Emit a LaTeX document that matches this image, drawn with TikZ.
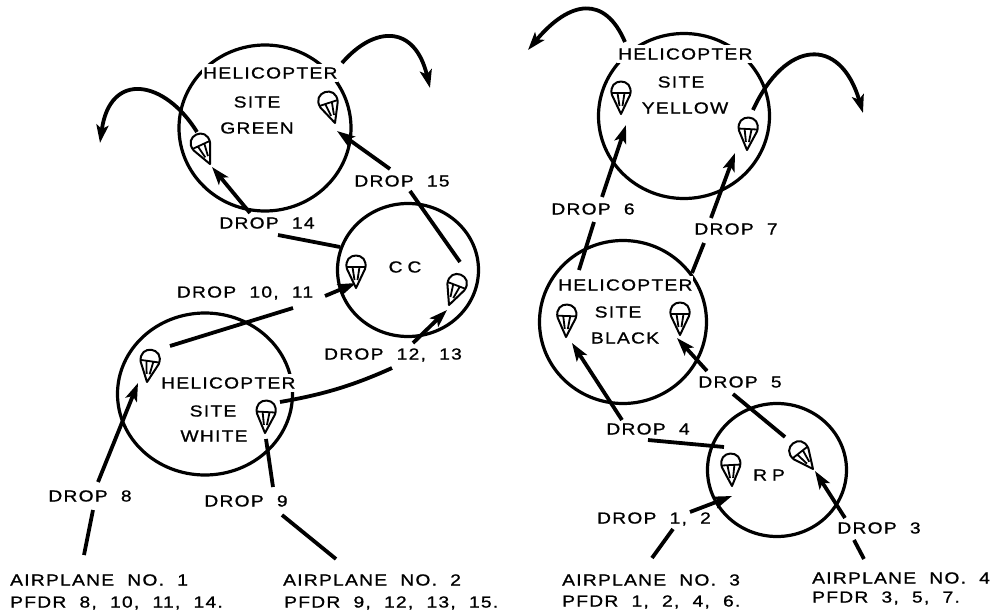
\documentclass[tikz,border=0pt]{standalone}
\usepackage{fontspec}
\setmainfont[FakeStretch=1.2,LetterSpace=8,WordSpace=2,FakeBold=1]{Liberation Sans}
\usetikzlibrary{arrows.meta,shapes.geometric}
\tikzset{
  site/.style={draw,ellipse,line width=3.2pt,inner sep=0pt},
  txt/.style={font=\fontsize{16}{18}\selectfont,inner sep=0pt,text=black},
  sitetxt/.style={txt,fill=white,inner xsep=1pt,inner ysep=3pt},
  link/.style={line width=3.8pt,line cap=butt},
  drop/.style={link,-{Stealth[length=18pt,width=12pt,inset=4pt]}},
  chute/.pic={
    \draw[line width=2pt,fill=white,line join=round] (0,0)--(-9,-19) .. controls (-14,-37) and (14,-37) .. (9,-19) -- cycle;
    \draw[line width=1.8pt] (-10,-21)--(10,-21) (-3.5,-21)--(-1.5,-8) (3.5,-21)--(1.5,-8);
  }
}
\begin{document}
\begin{tikzpicture}[x=1pt,y=-1pt]
\useasboundingbox (0,0) rectangle (997,613);
% sites
\node[site,minimum width=172pt,minimum height=166pt] (green) at (265,128) {};
\node[site,minimum width=141pt,minimum height=133pt] (cc) at (408,270) {};
\node[site,minimum width=175pt,minimum height=162pt] (white) at (205,394) {};
\node[site,minimum width=171pt,minimum height=165pt] (yellow) at (684,116) {};
\node[site,minimum width=167pt,minimum height=163pt] (black) at (623,322) {};
\node[site,minimum width=139pt,minimum height=133pt] (rp) at (777,470) {};
% coordinates
\foreach \n/\x/\y in {
 ga/197/132,gb/100/143,gc/342/63,gd/430/88,
 ya/625/42,yb/528/50,yc/753/110,yd/863/113,
 a14/250/213,b14/212/167,c14/278/235,d14/340/247,
 a15/390/169,b15/337/131,c15/410/191,d15/460/262,
 a10/325/296,b10/356/283,c10/170/346,d10/293/308,
 a12/413/343,b12/447/310,c12/392/368,d12/280/402,
 a8/98/482,b8/138/383,c8/93/510,d8/84/555,
 a9/273/487,b9/266/439,c9/282/515,d9/336/559,
 a6/602/197,b6/626/125,c6/594/222,d6/579/270,
 a7/711/218,b7/735/153,c7/704/243,d7/692/273,
 a5/707/371,b5/677/338,c5/733/394,d5/785/437,
 a4/622/420,b4/572/343,c4/648/440,d4/724/447,
 a1/690/512,b1/732/496,c1/673/529,d1/652/558,
 a3/845/518,b3/815/471,c3/854/540,d3/864/559}
 {\coordinate (\n) at (\x,\y);}
% connectors
\draw[drop] (ga) .. controls (165,80) and (110,70) .. (gb);
\draw[drop] (gc) .. controls (375,25) and (415,25) .. (gd);
\draw[drop] (ya) .. controls (605,-5) and (570,0) .. (yb);
\draw[drop] (yc) .. controls (785,40) and (840,35) .. (yd);
\draw[drop] (a14)--(b14); \draw[link] (c14)--(d14);
\draw[drop] (a15)--(b15); \draw[link] (c15)--(d15);
\draw[drop] (a10)--(b10); \draw[link] (c10)--(d10);
\draw[drop] (a12)--(b12); \draw[link] (c12) .. controls (350,387) and (320,395) .. (d12);
\draw[drop] (a8)--(b8);   \draw[link] (c8)--(d8);
\draw[link] (a9)--(b9);   \draw[link] (c9)--(d9);
\draw[drop] (a6)--(b6);   \draw[link] (c6)--(d6);
\draw[drop] (a7)--(b7);   \draw[link] (c7)--(d7);
\draw[drop] (a5)--(b5);   \draw[link] (c5)--(d5);
\draw[drop] (a4)--(b4);   \draw[link] (c4)--(d4);
\draw[drop] (a1)--(b1);   \draw[link] (c1)--(d1);
\draw[drop] (a3)--(b3);   \draw[link] (c3)--(d3);
% parachutes
\foreach \x/\y/\r in {210/164/25,335/123/18,356/288/0,449/305/-21,147/382/-8,265/433/-3,
  621/114/0,747/150/-3,566/337/-2,680/335/0,732/486/3,813/469/38}
  {\pic[rotate=\r] at (\x,\y) {chute};}
% site text
\node[sitetxt,anchor=west] (th1) at (202,73) {HELICOPTER};
\node[txt] (ts1) at (257,102) {SITE};
\node[txt] (tn1) at (257,128) {GREEN};
\node[txt] (tcc) at (405,267) {C\kern5pt C};
\node[sitetxt,anchor=west] (th2) at (160,383) {HELICOPTER};
\node[txt] (ts2) at (213,411) {SITE};
\node[txt] (tn2) at (214,436) {WHITE};
\node[sitetxt,anchor=west] (th3) at (617,54) {HELICOPTER};
\node[txt] (ts3) at (681,82) {SITE};
\node[txt] (tn3) at (685,108) {YELLOW};
\node[sitetxt,anchor=west] (th4) at (557,285) {HELICOPTER};
\node[txt] (ts4) at (618,312) {SITE};
\node[txt] (tn4) at (625,338) {BLACK};
\node[txt] (trp) at (769,475) {R\kern5pt P};
% drop labels
\node[txt] (l14) at (267,223) {DROP 14};
\node[txt] (l15) at (402,181) {DROP 15};
\node[txt] (l10) at (245,293) {DROP 10, 11};
\node[txt] (l12) at (393,355) {DROP 12, 13};
\node[txt] (l8) at (90,496) {DROP 8};
\node[txt] (l9) at (246,501) {DROP 9};
\node[txt] (l6) at (593,209) {DROP 6};
\node[txt] (l7) at (736,229) {DROP 7};
\node[txt] (l5) at (740,382) {DROP 5};
\node[txt] (l4) at (648,429) {DROP 4};
\node[txt] (l1) at (654,519) {DROP 1, 2};
\node[txt] (l3) at (879,528) {DROP 3};
% airplanes
\node[txt,anchor=west] (p1) at (10,580) {AIRPLANE NO. 1};
\node[txt,anchor=west] (q1) at (10,603) {PFDR 8, 10, 11, 14.};
\node[txt,anchor=west] (p2) at (283,580) {AIRPLANE NO. 2};
\node[txt,anchor=west] (q2) at (284,603) {PFDR 9, 12, 13, 15.};
\node[txt,anchor=west] (p3) at (562,580) {AIRPLANE NO. 3};
\node[txt,anchor=west] (q3) at (562,602) {PFDR 1, 2, 4, 6.};
\node[txt,anchor=west] (p4) at (812,578) {AIRPLANE NO. 4};
\node[txt,anchor=west] (q4) at (812,598) {PFDR 3, 5, 7.};
\end{tikzpicture}
\end{document}
